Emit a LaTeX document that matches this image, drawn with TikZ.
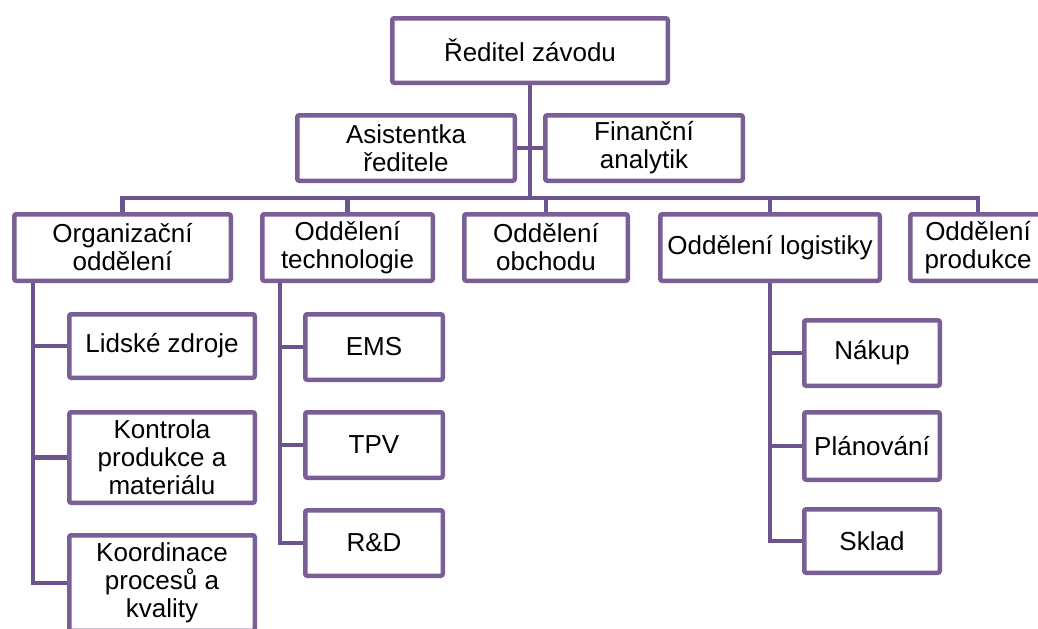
\documentclass[tikz,border=0pt]{standalone}
\usepackage{fontspec}
\setmainfont{Liberation Sans}
\definecolor{boxc}{RGB}{122,95,150}
\definecolor{linec}{RGB}{108,84,140}
\tikzset{
  orgbox/.style={draw=boxc, line width=3.375pt, fill=white, rounded corners=1.5pt,
    align=center, inner sep=0pt, text=black,
    font=\fontsize{19.5}{21}\selectfont},
  conn/.style={draw=linec, line width=3.375pt},
}
\newcommand\obox[6]{\node[orgbox, minimum width={(#4-4.5)*0.75pt}, minimum height={(#5-4.5)*0.75pt}] (#1) at (#2,#3) {#6};}
\begin{document}
\begin{tikzpicture}[x=0.75pt,y=-0.75pt]
\useasboundingbox (0,0) rectangle (1038,628);
\clip (0,0) rectangle (1038,628);
\fill[white] (0,0) rectangle (1038,628);
% nodes
\obox{dir}{530}{50.5}{280}{69}{Ředitel závodu}
\obox{asist}{406}{148}{222}{70}{Asistentka\\ředitele}
\obox{fin}{644}{148}{202}{70}{Finanční\\analytik}
\obox{org}{122.5}{247.5}{221}{71}{Organizační\\oddělení}
\obox{tech}{347.5}{247.5}{175}{71}{Oddělení\\technologie}
\obox{obch}{546}{247.5}{168}{71}{Oddělení\\obchodu}
\obox{log}{770}{247.5}{224}{71}{Oddělení logistiky}
\obox{prod}{978}{247.5}{140}{71}{Oddělení\\produkce}
\obox{lidske}{162}{346}{190}{68}{Lidské zdroje}
\obox{kontrola}{162}{457.5}{190}{95}{Kontrola\\produkce a\\materiálu}
\obox{koord}{162}{583}{190}{100}{Koordinace\\procesů a\\kvality}
\obox{ems}{374}{347}{142}{70}{EMS}
\obox{tpv}{374}{445}{142}{70}{TPV}
\obox{rd}{374}{543}{142}{70}{R\&D}
\obox{nakup}{872}{353}{140}{70}{Nákup}
\obox{plan}{872}{446}{140}{72}{Plánování}
\obox{sklad}{872}{541}{140}{68}{Sklad}
% coordinates
\coordinate (busL) at (122.5,198);
\coordinate (busR) at (978,198);
\coordinate (orgx) at (33,0);
\coordinate (techx) at (280,0);
% connectors
\draw[conn] (dir.south) -- (dir.south |- busL);
\draw[conn] (asist.east) -- (fin.west);
\draw[conn] (org.north) -- (busL) -- (busR) -- (prod.north);
\draw[conn] (tech.north) -- (tech.north |- busL);
\draw[conn] (obch.north) -- (obch.north |- busL);
\draw[conn] (log.north) -- (log.north |- busL);
\draw[conn] (org.south -| orgx) |- (lidske.west);
\draw[conn] (org.south -| orgx) |- (kontrola.west);
\draw[conn] (org.south -| orgx) |- (koord.west);
\draw[conn] (tech.south -| techx) |- (ems.west);
\draw[conn] (tech.south -| techx) |- (tpv.west);
\draw[conn] (tech.south -| techx) |- (rd.west);
\draw[conn] (log.south) |- (nakup.west);
\draw[conn] (log.south) |- (plan.west);
\draw[conn] (log.south) |- (sklad.west);
\end{tikzpicture}
\end{document}
